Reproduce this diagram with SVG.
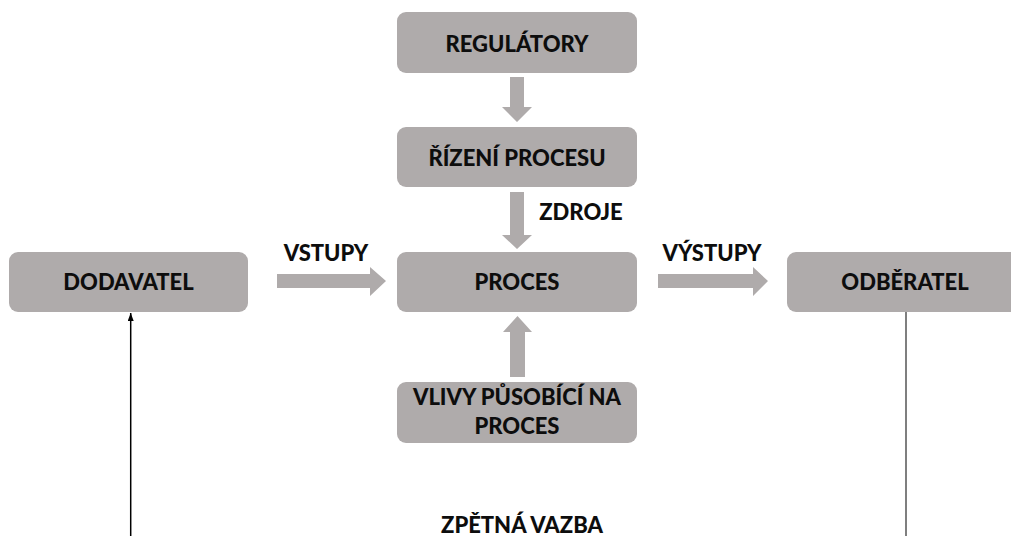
<svg xmlns="http://www.w3.org/2000/svg" width="1011" height="536" viewBox="0 0 1011 536">
<defs>
<style>
.box{fill:#AFABAB;}
.arr{fill:#AFABAB;}
.t{font-family:Lato,"Open Sans","Liberation Sans",sans-serif;font-weight:900;font-size:22px;fill:#0D0D0D;text-anchor:middle;}
</style>
<marker id="ah" viewBox="0 0 8 6" refX="8" refY="3" markerWidth="8" markerHeight="6" markerUnits="userSpaceOnUse" orient="auto">
<path d="M8,3 L0,0 L0,6 Z" fill="#000"/>
</marker>
</defs>
<rect width="1011" height="536" fill="#fff"/>
<g id="regulatory"><rect class="box" x="397" y="12" width="240" height="61" rx="9"/><text class="t" x="517" y="52">REGULÁTORY</text></g>
<g id="rizeni"><rect class="box" x="397" y="127" width="240" height="60" rx="9"/><text class="t" x="517" y="166">ŘÍZENÍ PROCESU</text></g>
<g id="dodavatel"><rect class="box" x="9" y="252" width="239" height="60" rx="9"/><text class="t" x="128.5" y="290">DODAVATEL</text></g>
<g id="proces"><rect class="box" x="397" y="252" width="240" height="60" rx="9"/><text class="t" x="517" y="290">PROCES</text></g>
<g id="odberatel"><rect class="box" x="787" y="252" width="250" height="60" rx="9"/><text class="t" x="905" y="290">ODBĚRATEL</text></g>
<g id="vlivy"><rect class="box" x="397" y="382" width="240" height="61" rx="9"/><text class="t" x="517" y="405">VLIVY PŮSOBÍCÍ NA</text><text class="t" x="517" y="434">PROCES</text></g>
<g id="connectors">
<polygon class="arr" points="510,77 524,77 524,107 532,107 517,122 502,107 510,107"/>
<polygon class="arr" points="510,192 524,192 524,235 532,235 517,249 502,235 510,235"/>
<polygon class="arr" points="510,377 525,377 525,332 532,332 517.5,316 503,332 510,332"/>
<polygon class="arr" points="277,274 370,274 370,267 386,281 370,296 370,288 277,288"/>
<polygon class="arr" points="658,274 753,274 753,267 768,281 753,296 753,288 658,288"/>
<line x1="130.7" y1="536" x2="130.7" y2="313" stroke="#000" stroke-width="1.5" marker-end="url(#ah)"/>
<line x1="906" y1="312" x2="906" y2="536" stroke="#7F7F7F" stroke-width="2"/>
</g>
<g id="labels">
<text class="t" x="581" y="220">ZDROJE</text>
<text class="t" x="326" y="261">VSTUPY</text>
<text class="t" x="712" y="261">VÝSTUPY</text>
<text class="t" x="522" y="533">ZPĚTNÁ VAZBA</text>
</g>
</svg>
